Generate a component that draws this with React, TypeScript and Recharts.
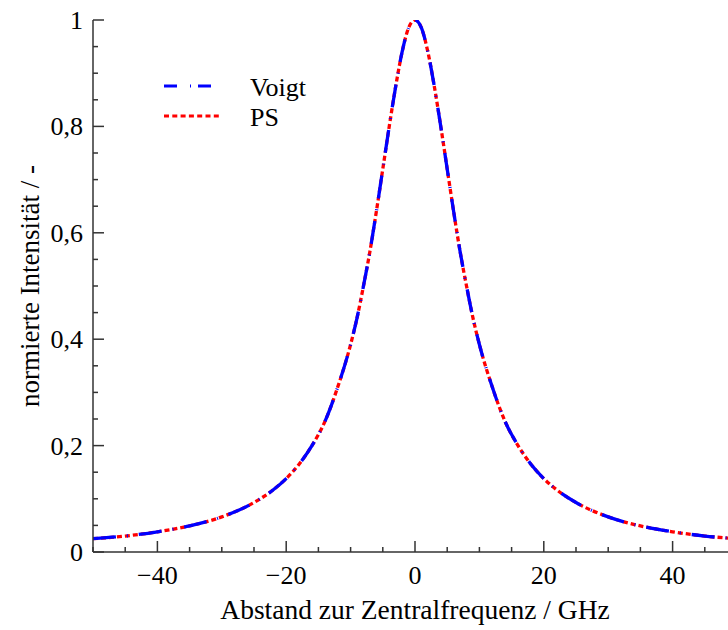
import { Legend, Line, LineChart, XAxis, YAxis } from "recharts"

const xs = [
  -50, -45, -40, -35, -30, -25, -22, -20, -18, -16, -14, -12, -10, -9, -8, -7,
  -6, -5, -4, -3, -2, -1, 0, 1, 2, 3, 4, 5, 6, 7, 8, 9, 10, 12, 14, 16, 18, 20,
  22, 25, 30, 35, 40, 45, 50,
]

const voigt = [
  0.025, 0.03, 0.038, 0.049, 0.066, 0.093, 0.117, 0.138, 0.165, 0.2, 0.245,
  0.31, 0.39, 0.44, 0.5, 0.565, 0.64, 0.72, 0.8, 0.875, 0.94, 0.985, 1.0, 0.985,
  0.94, 0.875, 0.8, 0.72, 0.64, 0.565, 0.5, 0.44, 0.39, 0.31, 0.245, 0.2, 0.165,
  0.138, 0.117, 0.093, 0.066, 0.049, 0.038, 0.03, 0.025,
]

const ps = [
  0.025, 0.03, 0.038, 0.049, 0.066, 0.093, 0.117, 0.138, 0.165, 0.2, 0.245,
  0.31, 0.39, 0.44, 0.5, 0.565, 0.64, 0.72, 0.8, 0.875, 0.94, 0.985, 1.0, 0.985,
  0.94, 0.875, 0.8, 0.72, 0.64, 0.565, 0.5, 0.44, 0.39, 0.31, 0.245, 0.2, 0.165,
  0.138, 0.117, 0.093, 0.066, 0.049, 0.038, 0.03, 0.025,
]

const xTicks = [
  -50, -45, -40, -35, -30, -25, -20, -15, -10, -5, 0, 5, 10, 15, 20, 25, 30, 35,
  40, 45, 50,
]
const xLabels = [-40, -20, 0, 20, 40]

const yTicks = [
  0, 0.05, 0.1, 0.15, 0.2, 0.25, 0.3, 0.35, 0.4, 0.45, 0.5, 0.55, 0.6, 0.65, 0.7,
  0.75, 0.8, 0.85, 0.9, 0.95, 1,
]
const yLabels = ["0", "0,2", "0,4", "0,6", "0,8", "1"]

const data = xs.map((x, i) => ({ x, voigt: voigt[i], ps: ps[i] }))

const font = '"Liberation Serif", "Times New Roman", serif'
const axisColor = "#333"

const BottomTick = (props: any) => {
  const { x, y, payload } = props
  const major = xLabels.includes(payload.value)
  return (
    <g>
      <line x1={x} x2={x} y1={y} y2={y - (major ? 11 : 5)} stroke={axisColor} strokeWidth={1.5} />
      {major && (
        <text x={x} y={y + 32} textAnchor="middle" fontFamily={font} fontSize={26} fill="#000">
          {payload.value < 0 ? "\u2212" + Math.abs(payload.value) : payload.value}
        </text>
      )}
    </g>
  )
}

const TopTick = (props: any) => {
  const { x, y, payload } = props
  const major = xLabels.includes(payload.value)
  return (
    <line x1={x} x2={x} y1={y} y2={y + (major ? 11 : 5)} stroke={axisColor} strokeWidth={1.5} />
  )
}

const LeftTick = (props: any) => {
  const { x, y, payload } = props
  const idx = Math.round(payload.value * 5)
  const major = Math.abs(payload.value * 5 - idx) < 1e-6
  return (
    <g>
      <line x1={x} x2={x + (major ? 11 : 5)} y1={y} y2={y} stroke={axisColor} strokeWidth={1.5} />
      {major && (
        <text x={x - 10} y={y + 9} textAnchor="end" fontFamily={font} fontSize={26} fill="#000">
          {yLabels[idx]}
        </text>
      )}
    </g>
  )
}

const renderLegend = () => (
  <svg width={200} height={70}>
    <line x1={6} x2={54} y1={18} y2={18} stroke="#0000ff" strokeWidth={3} strokeDasharray="13 13 1 7" />
    <text x={92} y={28} fontFamily={font} fontSize={26} fill="#000">Voigt</text>
    <line x1={6} x2={62} y1={48} y2={48} stroke="#ff0000" strokeWidth={3} strokeDasharray="5 3.3" />
    <text x={92} y={58} fontFamily={font} fontSize={26} fill="#000">PS</text>
  </svg>
)

export default function App() {
  return (
    <div style={{ width: 728, height: 630, overflow: "hidden" }}>
      <style>{"body { margin: 0; }"}</style>
      <LineChart
        width={737}
        height={630}
        data={data}
        margin={{ top: 20, right: 0, bottom: 0, left: 0 }}
      >
        <XAxis
          dataKey="x"
          type="number"
          domain={[-50, 50]}
          ticks={xTicks}
          interval={0}
          allowDataOverflow
          tickSize={0}
          tickMargin={0}
          tick={BottomTick}
          height={78}
          axisLine={{ stroke: axisColor, strokeWidth: 1.5 }}
          label={{
            content: () => (
              <text x={415} y={619} textAnchor="middle" fontFamily={font} fontSize={27.5} fill="#000">
                Abstand zur Zentralfrequenz / GHz
              </text>
            ),
          }}
        />
        <XAxis
          xAxisId="top"
          orientation="top"
          dataKey="x"
          type="number"
          domain={[-50, 50]}
          ticks={xTicks}
          interval={0}
          allowDataOverflow
          tickSize={0}
          tickMargin={0}
          tick={TopTick}
          height={0}
          axisLine={{ stroke: axisColor, strokeWidth: 1.5 }}
        />
        <YAxis
          type="number"
          domain={[0, 1]}
          ticks={yTicks}
          interval={0}
          allowDataOverflow
          tickSize={0}
          tickMargin={0}
          tick={LeftTick}
          width={93}
          axisLine={{ stroke: axisColor, strokeWidth: 1.5 }}
          label={{
            content: () => (
              <text
                x={39}
                y={286}
                transform="rotate(-90 39 286)"
                textAnchor="middle"
                fontFamily={font}
                fontSize={27}
                fill="#000"
              >
                normierte Intensität / -
              </text>
            ),
          }}
        />
        <Legend
          layout="vertical"
          align="center"
          verticalAlign="middle"
          content={renderLegend}
          wrapperStyle={{ position: "absolute", left: 158, top: 68, width: 200, height: 70 }}
        />
        <Line
          name="PS"
          type="monotone"
          dataKey="ps"
          stroke="#ff0000"
          strokeWidth={3.3}
          strokeDasharray="5 3"
          dot={false}
          isAnimationActive={false}
        />
        <Line
          name="Voigt"
          type="monotone"
          dataKey="voigt"
          stroke="#0000ff"
          strokeWidth={3.3}
          strokeDasharray="23 11 1 11"
          dot={false}
          isAnimationActive={false}
        />
      </LineChart>
    </div>
  )
}
